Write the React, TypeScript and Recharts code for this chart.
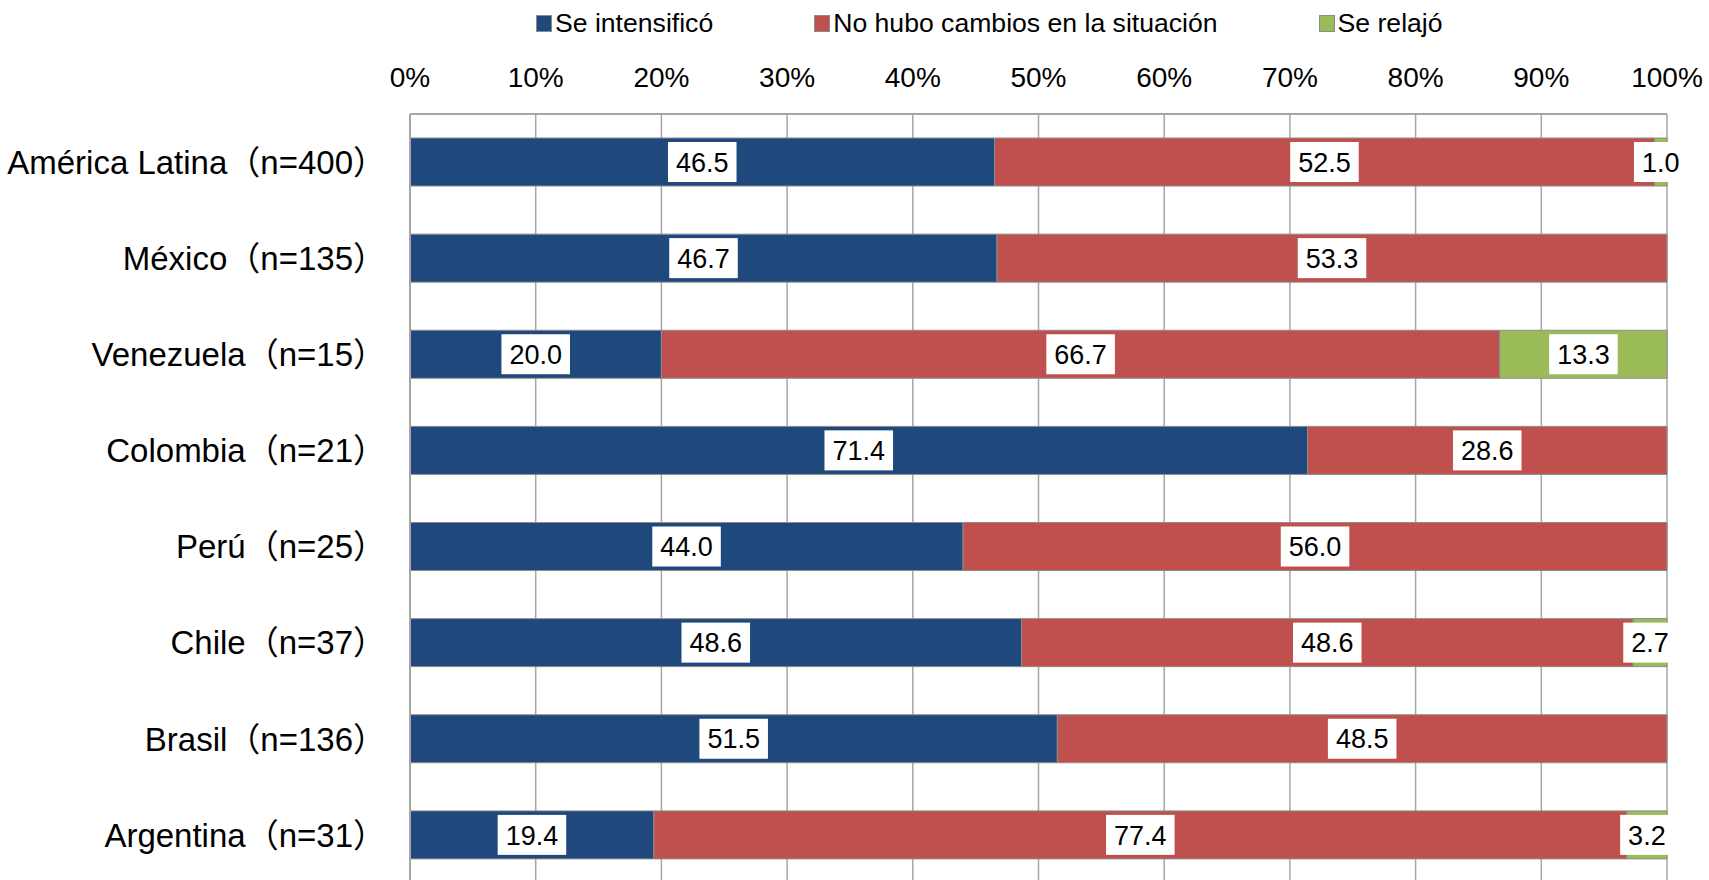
import { Bar, BarChart, CartesianGrid, LabelList, Legend, XAxis, YAxis } from "recharts";

const countries = [
  "América Latina（n=400）",
  "México（n=135）",
  "Venezuela（n=15）",
  "Colombia（n=21）",
  "Perú（n=25）",
  "Chile（n=37）",
  "Brasil（n=136）",
  "Argentina（n=31）",
];
const intensified = [46.5, 46.7, 20.0, 71.4, 44.0, 48.6, 51.5, 19.4];
const unchanged = [52.5, 53.3, 66.7, 28.6, 56.0, 48.6, 48.5, 77.4];
const relaxed = [1.0, 0, 13.3, 0, 0, 2.7, 0, 3.2];
const xTicks = [0, 0.1, 0.2, 0.3, 0.4, 0.5, 0.6, 0.7, 0.8, 0.9, 1];

const seriesNames = ["Se intensificó", "No hubo cambios en la situación", "Se relajó"];
const colors = ["#1F497D", "#C0504D", "#9BBB59"];

const FONT = "'Liberation Sans', Arial, 'Noto Sans CJK JP', sans-serif";

const data = countries.map((name, i) => ({
  name,
  a: intensified[i],
  b: unchanged[i],
  c: relaxed[i],
}));

function ValueLabel(props: any) {
  const { x, y, width, height, value } = props;
  if (!value) return null;
  const txt = Number(value).toFixed(1);
  const fs = 27;
  const tw = (txt.replace(".", "").length * 0.556 + 0.278) * fs;
  const bw = tw + 16;
  const bh = 40;
  const cx = x + width / 2;
  const cy = y + height / 2;
  return (
    <g>
      <rect x={cx - bw / 2} y={cy - bh / 2} width={bw} height={bh} fill="#fff" />
      <text
        x={cx}
        y={cy}
        dy={fs * 0.36}
        textAnchor="middle"
        fontSize={fs}
        fontFamily={FONT}
        fill="#000"
      >
        {txt}
      </text>
    </g>
  );
}

function CountryTick(props: any) {
  const { x, y, payload } = props;
  return (
    <text
      x={x}
      y={y}
      dy={11.8}
      textAnchor="end"
      fontSize={33}
      fontFamily={FONT}
      fill="#000"
    >
      {payload.value}
    </text>
  );
}

function LegendBox() {
  return (
    <div style={{ display: "flex", alignItems: "center", fontFamily: FONT, fontSize: 26.6, color: "#000", whiteSpace: "nowrap" }}>
      {seriesNames.map((n, i) => (
        <div key={n} style={{ display: "flex", alignItems: "center", marginRight: 101 }}>
          <span
            style={{
              display: "inline-block",
              width: 16,
              height: 17,
              background: colors[i],
              border: "1px solid #8c8c8c",
              boxSizing: "border-box",
              marginRight: 3,
            }}
          />
          <span>{n}</span>
        </div>
      ))}
    </div>
  );
}

export default function App() {
  return (
    <div style={{ position: "absolute", left: 0, top: 0, background: "#fff" }}>
      <BarChart
        width={1709}
        height={890}
        data={data}
        layout="vertical"
        stackOffset="expand"
        barSize={48}
        margin={{ top: 0, right: 42, bottom: 7, left: 0 }}
      >
        <CartesianGrid horizontal={false} stroke="#A6A6A6" strokeWidth={1.5} />
        <XAxis
          type="number"
          orientation="top"
          domain={[0, 1]}
          ticks={xTicks}
          height={114}
          tickSize={0}
          tickMargin={27}
          tickLine={false}
          axisLine={{ stroke: "#A6A6A6", strokeWidth: 2 }}
          tick={{ fontSize: 28, fontFamily: FONT, fill: "#000" }}
          tickFormatter={(v: number) => `${Math.round(v * 100)}%`}
          interval={0}
        />
        <YAxis
          type="category"
          dataKey="name"
          width={410}
          tickSize={0}
          tickMargin={24}
          tickLine={false}
          axisLine={{ stroke: "#A6A6A6", strokeWidth: 2 }}
          tick={<CountryTick />}
          interval={0}
        />
        <Legend
          verticalAlign="middle"
          align="center"
          layout="horizontal"
          content={<LegendBox />}
          wrapperStyle={{ position: "absolute", left: 536, top: 8, width: "auto" }}
        />
        <Bar dataKey="a" stackId="s" fill={colors[0]} stroke="#8c8c8c" strokeWidth={1} isAnimationActive={false}>
          <LabelList dataKey="a" content={<ValueLabel />} />
        </Bar>
        <Bar dataKey="b" stackId="s" fill={colors[1]} stroke="#8c8c8c" strokeWidth={1} isAnimationActive={false}>
          <LabelList dataKey="b" content={<ValueLabel />} />
        </Bar>
        <Bar dataKey="c" stackId="s" fill={colors[2]} stroke="#8c8c8c" strokeWidth={1} isAnimationActive={false}>
          <LabelList dataKey="c" content={<ValueLabel />} />
        </Bar>
      </BarChart>
    </div>
  );
}
